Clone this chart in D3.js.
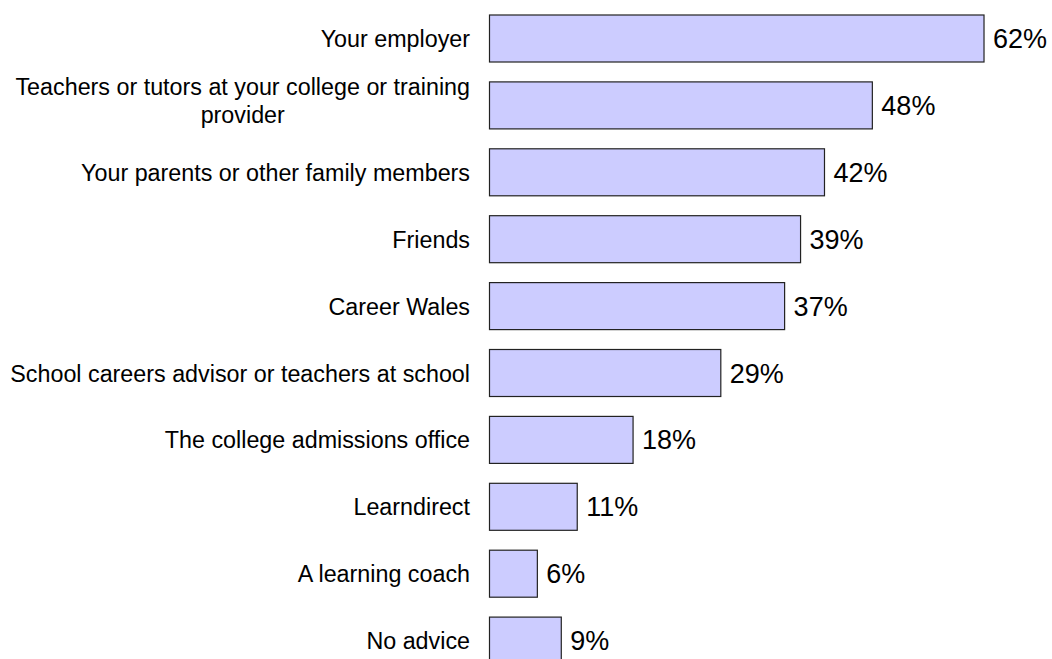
<!DOCTYPE html>
<html>
<head>
<meta charset="utf-8">
<script src="https://cdn.jsdelivr.net/npm/d3@7"></script>
<style>
  html, body { margin: 0; padding: 0; background: #fff; }
  svg { display: block; font-family: Arial, "Liberation Sans", sans-serif; }
</style>
</head>
<body>
<svg id="chart" width="1052" height="659"></svg>
<script>
// Sources of advice (percentage of respondents)
const categories = [
  "Your employer",
  "Teachers or tutors at your college or training provider",
  "Your parents or other family members",
  "Friends",
  "Career Wales",
  "School careers advisor or teachers at school",
  "The college admissions office",
  "Learndirect",
  "A learning coach",
  "No advice"
];
const values = [62, 48, 42, 39, 37, 29, 18, 11, 6, 9];

const svg = d3.select("#chart");
const left = 489.5;
const pxPerPct = 7.976;

const x = d3.scaleLinear().domain([0, 100]).range([left, left + 100 * pxPerPct]);

// bands: first bar top at 15, step 66.9, bar height 47
const step = 66.9, barH = 47;
const y = d3.scaleBand()
  .domain(categories)
  .range([15, 15 + step * (categories.length - 1) + barH])
  .paddingInner(1 - barH / step)
  .paddingOuter(0);

const data = categories.map((c, i) => ({ c, v: values[i] }));

svg.selectAll("rect.bar").data(data).join("rect")
  .attr("class", "bar")
  .attr("x", x(0))
  .attr("y", d => y(d.c))
  .attr("width", d => x(d.v) - x(0))
  .attr("height", y.bandwidth())
  .attr("fill", "#ccccff")
  .attr("stroke", "#222")
  .attr("stroke-width", 1.2);

svg.selectAll("text.val").data(data).join("text")
  .attr("class", "val")
  .attr("x", d => x(d.v) + 9)
  .attr("y", d => y(d.c) + y.bandwidth() / 2 + 9.5)
  .attr("font-size", 27)
  .attr("fill", "#000")
  .text(d => d.v + "%");

// category labels, wrapped when wider than the label column
const labelRight = 470;
const maxW = 470;
const fontSize = 23.3;
const lineH = 28;

data.forEach(d => {
  const g = svg.append("g");
  const probe = g.append("text").attr("font-size", fontSize);
  const words = d.c.split(" ");
  const lines = [];
  let cur = [];
  words.forEach(w => {
    cur.push(w);
    probe.text(cur.join(" "));
    if (probe.node().getComputedTextLength() > maxW && cur.length > 1) {
      cur.pop();
      lines.push(cur.join(" "));
      cur = [w];
    }
  });
  lines.push(cur.join(" "));
  probe.remove();

  const cy = y(d.c) + y.bandwidth() / 2;
  if (lines.length === 1) {
    g.append("text")
      .attr("x", labelRight)
      .attr("y", cy + 8.5)
      .attr("text-anchor", "end")
      .attr("font-size", fontSize)
      .attr("fill", "#000")
      .text(lines[0]);
  } else {
    const t = g.append("text")
      .attr("font-size", fontSize)
      .attr("fill", "#000")
      .attr("text-anchor", "middle");
    // measure widest line to right-align the block
    let wMax = 0;
    lines.forEach(l => {
      t.text(l);
      wMax = Math.max(wMax, t.node().getComputedTextLength());
    });
    t.text(null);
    const cx = labelRight - wMax / 2;
    const firstBase = cy - 10;
    lines.forEach((l, i) => {
      t.append("tspan").attr("x", cx).attr("y", firstBase + i * lineH).text(l);
    });
  }
});
</script>
</body>
</html>
